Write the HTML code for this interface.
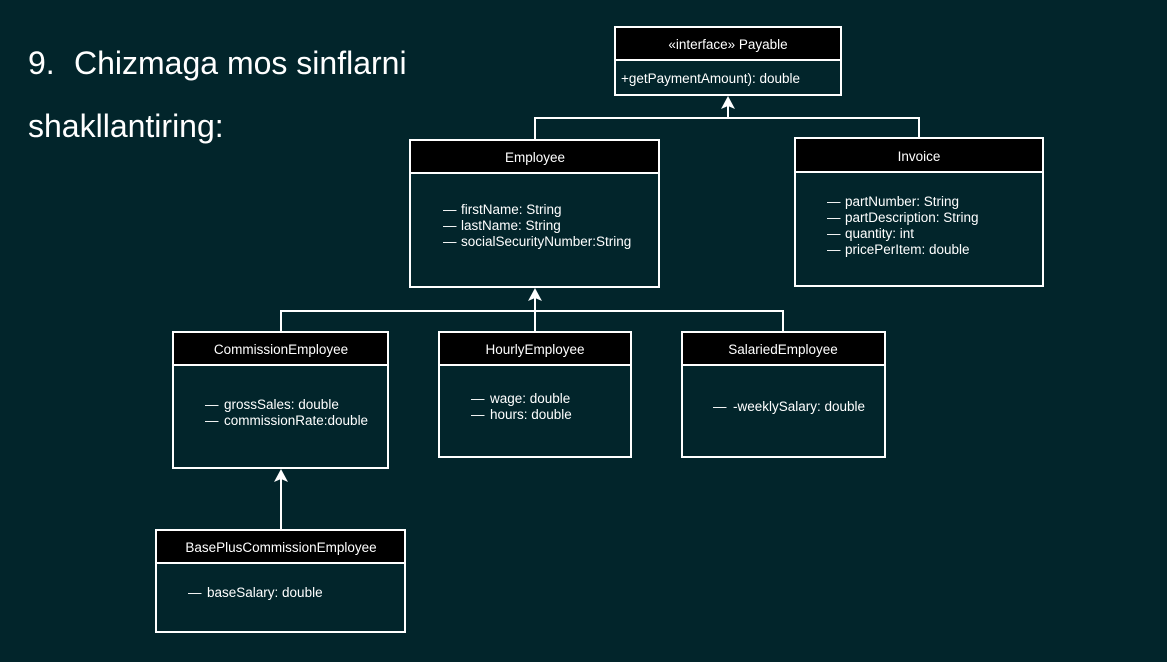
<!DOCTYPE html>
<html><head><meta charset="utf-8"><style>
html,body{margin:0;padding:0;background:#02252b;}
svg{display:block;font-family:"Liberation Sans",Arial,sans-serif;}
</style></head><body>
<svg width="1167" height="662" viewBox="0 0 1167 662" xmlns="http://www.w3.org/2000/svg">
<rect width="1167" height="662" fill="#02252b"/>
<text x="28" y="74" font-size="32" fill="#fff">9.</text>
<text x="74" y="74" font-size="32" fill="#fff">Chizmaga mos sinflarni</text>
<text x="28" y="137" font-size="32" fill="#fff">shakllantiring:</text>

<g stroke="#fff" stroke-width="2" fill="none">
<polyline points="535,140 535,118 919,118 919,138"/>
<line x1="728" y1="118" x2="728" y2="100"/>
<polyline points="281,332 281,311 783,311 783,332"/>
<line x1="535" y1="332" x2="535" y2="292"/>
<line x1="281" y1="530" x2="281" y2="473"/>
</g>
<g fill="#fff">
<path d="M728,96 L735,109 L728,106 L721,109 Z"/>
<path d="M535,288 L542,301 L535,298 L528,301 Z"/>
<path d="M281,469 L288,482 L281,479 L274,482 Z"/>
</g>

<g stroke="#fff" stroke-width="2">
<rect x="615" y="27" width="226" height="68" fill="#02252b"/>
<rect x="615" y="27" width="226" height="33" fill="#000"/>
<rect x="410" y="140" width="249" height="147" fill="#02252b"/>
<rect x="410" y="140" width="249" height="33" fill="#000"/>
<rect x="795" y="138" width="248" height="148" fill="#02252b"/>
<rect x="795" y="138" width="248" height="34" fill="#000"/>
<rect x="173" y="332" width="215" height="136" fill="#02252b"/>
<rect x="173" y="332" width="215" height="33" fill="#000"/>
<rect x="439" y="332" width="192" height="125" fill="#02252b"/>
<rect x="439" y="332" width="192" height="33" fill="#000"/>
<rect x="682" y="332" width="203" height="125" fill="#02252b"/>
<rect x="682" y="332" width="203" height="33" fill="#000"/>
<rect x="156" y="530" width="249" height="102" fill="#02252b"/>
<rect x="156" y="530" width="249" height="33" fill="#000"/>
</g>

<g fill="#fff" font-size="13.5" text-anchor="middle">
<text x="728" y="49">«interface» Payable</text>
<text x="535" y="162">Employee</text>
<text x="919" y="161">Invoice</text>
<text x="281" y="354">CommissionEmployee</text>
<text x="535" y="354">HourlyEmployee</text>
<text x="783" y="354">SalariedEmployee</text>
<text x="281" y="552">BasePlusCommissionEmployee</text>
</g>
<g fill="#fff" font-size="13.5">
<text x="621" y="83">+getPaymentAmount): double</text>
<text x="443" y="214">—</text><text x="461" y="214">firstName: String</text>
<text x="443" y="230">—</text><text x="461" y="230">lastName: String</text>
<text x="443" y="246">—</text><text x="461" y="246">socialSecurityNumber:String</text>
<text x="827" y="206">—</text><text x="845" y="206">partNumber: String</text>
<text x="827" y="222">—</text><text x="845" y="222">partDescription: String</text>
<text x="827" y="238">—</text><text x="845" y="238">quantity: int</text>
<text x="827" y="254">—</text><text x="845" y="254">pricePerItem: double</text>
<text x="205" y="409">—</text><text x="224" y="409">grossSales: double</text>
<text x="205" y="425">—</text><text x="224" y="425">commissionRate:double</text>
<text x="471" y="403">—</text><text x="490" y="403">wage: double</text>
<text x="471" y="419">—</text><text x="490" y="419">hours: double</text>
<text x="713" y="411">—</text><text x="733" y="411">-weeklySalary: double</text>
<text x="188" y="597">—</text><text x="207" y="597">baseSalary: double</text>
</g>
</svg>
</body></html>
